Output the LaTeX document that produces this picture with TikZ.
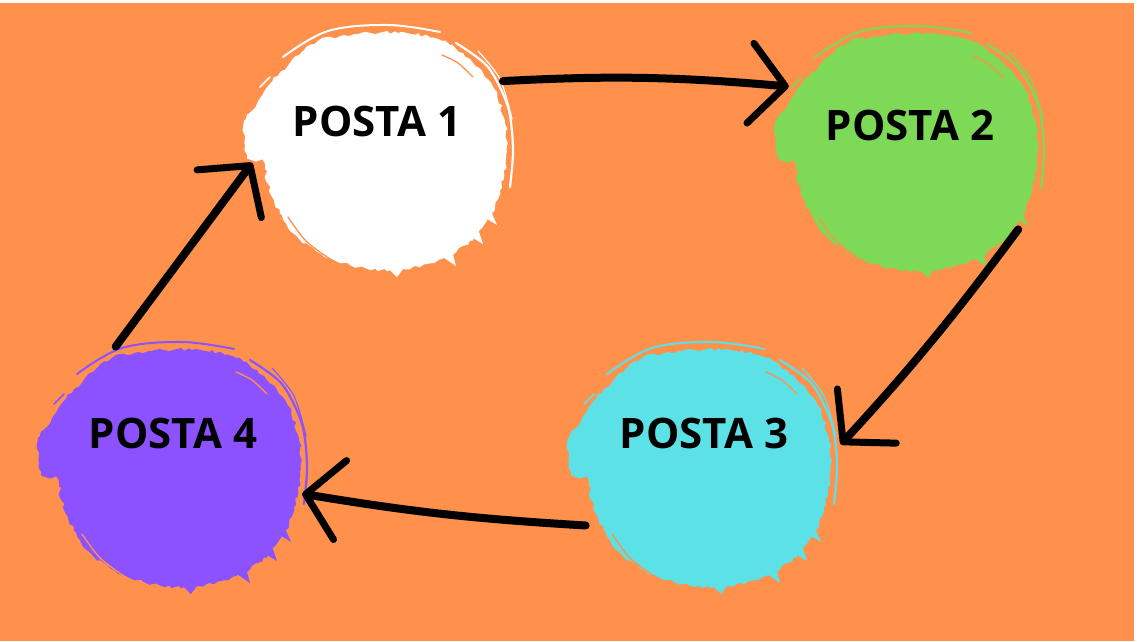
\documentclass[tikz,border=0pt]{standalone}
\usepackage{fontspec}
\setmainfont{Open Sans}
\usetikzlibrary{arrows.meta,decorations.pathmorphing}
\definecolor{bgorange}{HTML}{FF914D}
\definecolor{pgreen}{HTML}{7ED957}
\definecolor{pcyan}{HTML}{5CE1E6}
\definecolor{ppurple}{HTML}{8C52FF}
\newcommand\brushblob[2]{%
 \begin{scope}[shift={#1}, y=1pt]
  \pgfmathsetseed{12}
  \fill[#2, decorate, decoration={random steps, segment length=4pt, amplitude=1.6pt}]
   plot[smooth cycle, tension=0.6] coordinates {(-60,108) (-20,115) (20,116) (60,110) (92,90) (115,62) (127,25) (128,-10) (120,-50) (100,-84) (68,-108) (25,-120) (-20,-118) (-62,-102) (-92,-74) (-110,-35) (-114,-15) (-130,-8) (-134,15) (-132,30) (-120,48) (-108,65) (-88,86)};
  % outer streaks
  \draw[#2, line width=2pt, line cap=round] plot[smooth, tension=0.6] coordinates {(-95,92) (-50,118) (10,124) (62,117)};
  \draw[#2, line width=2.2pt, line cap=round] plot[smooth] coordinates {(78,106) (110,82) (130,42) (135,0) (132,-38)};
  \draw[#2, line width=1.2pt, line cap=round] plot[smooth] coordinates {(100,98) (122,70) (134,30)};
  \draw[#2, line width=1.5pt, line cap=round] (-118,62) -- (-108,72);
  \draw[#2, line width=1.5pt, line cap=round] (-114,55) -- (-104,65);
  % inner gap streaks
  \draw[bgorange, line width=1.3pt, line cap=round] plot[smooth] coordinates {(64,94) (80,86) (95,72)};
  \draw[bgorange, line width=1.3pt, line cap=round] plot[smooth] coordinates {(-90,-68) (-72,-92) (-48,-110)};
  % bottom spikes
  \fill[#2] (8,-117) -- (19,-128) -- (28,-116) -- cycle;
  \fill[#2] (62,-106) -- (78,-117) -- (74,-102) -- cycle;
  \fill[#2] (90,-86) -- (105,-95) -- (100,-80) -- cycle;
  \fill[#2] (106,-68) -- (119,-76) -- (112,-60) -- cycle;
 \end{scope}}
\tikzset{
  anchorcircle/.style={circle, minimum size=270pt, inner sep=0pt, outer sep=0pt},
  postalabel/.style={font=\fontsize{42}{50}\selectfont\bfseries, text=black, inner sep=0pt},
  brush/.style={line width=8pt, line cap=round, -{Straight Barb[length=35pt,width=80pt,line width=7pt,round]}}
}
\begin{document}
\begin{tikzpicture}[x=1pt,y=-1pt]
\useasboundingbox (0,0) rectangle (1137,641);
\fill[white] (0,0) rectangle (1137,641);
\fill[bgorange] (0,3) rectangle (1134,641);
\brushblob{(378,149)}{white}
\brushblob{(909,150)}{pgreen}
\brushblob{(702,466)}{pcyan}
\brushblob{(172,466)}{ppurple}
\node[anchorcircle] (b1) at (378,149) {};
\node[anchorcircle] (b2) at (909,150) {};
\node[anchorcircle] (b3) at (702,466) {};
\node[anchorcircle] (b4) at (172,466) {};
\node[postalabel] (t1) at (377,121) {POSTA 1};
\node[postalabel] (t2) at (910,125) {POSTA 2};
\node[postalabel] (t3) at (704,433) {POSTA 3};
\node[postalabel] (t4) at (173,433) {POSTA 4};
\draw[brush, shorten <=8pt, shorten >=1pt] (b1.30) to[bend left=4] (b2.152);
\draw[brush, shorten >=7pt] (b2.-36) to[bend left=3] (b3.7);
\draw[brush, shorten <=-5pt, shorten >=-2pt] (b3.-154) to[bend left=3] (b4.-12);
\draw[brush, shorten <=-6pt, shorten >=-12pt] (b4.113) to (b1.-170);
\end{tikzpicture}
\end{document}
